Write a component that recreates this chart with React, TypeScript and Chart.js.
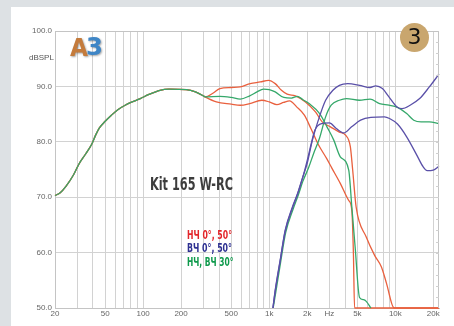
import React, { useEffect, useRef } from 'react';
import { Chart, registerables } from 'chart.js';

Chart.register(...registerables);

// ---- axis ticks ----
const FREQ_GRID = [20, 30, 40, 50, 60, 70, 80, 90, 100, 200, 300, 400, 500, 600, 700, 800, 900, 1000, 2000, 3000, 4000, 5000, 6000, 7000, 8000, 9000, 10000, 20000];
const FREQ_LABEL_VALUES = [20, 50, 100, 200, 500, 1000, 2000, 3000, 5000, 10000, 20000];
const FREQ_LABEL_TEXT = ['20', '50', '100', '200', '500', '1k', '2k', 'Hz', '5k', '10k', '20k'];
const DB_TICKS = [50, 60, 70, 80, 90, 100];

// ---- woofer (НЧ) common low part ----
const lowFreq = [20, 22, 24.5, 28, 31, 35, 39, 42, 45, 50, 56, 63, 72, 80, 95, 110, 136, 160, 220, 260, 300];
const lowDb = [70.3, 70.8, 72.0, 74.0, 76.0, 77.8, 79.5, 81.2, 82.5, 83.7, 84.8, 85.8, 86.6, 87.1, 87.8, 88.5, 89.3, 89.5, 89.4, 89.0, 88.3];

// НЧ 0°
const wooferRed0Freq = [310, 360, 406, 500, 589, 706, 850, 988, 1115, 1250, 1387, 1613, 1937, 2326, 2630, 3060, 3570, 4030, 4400, 4590, 4890, 5880, 6850, 7760, 8500, 9780, 22200];
const wooferRed0Db = [88.1, 88.8, 89.6, 89.8, 89.9, 90.5, 90.8, 91.1, 90.5, 89.3, 88.6, 88.3, 87.2, 85.4, 83.6, 82.7, 81.8, 81.2, 79.1, 74.9, 68.2, 62.8, 59.5, 57.4, 54.5, 50, 50];

// НЧ 50°
const wooferRed50Freq = [310, 381, 500, 589, 700, 873, 1000, 1150, 1300, 1450, 1650, 1900, 2150, 2450, 2850, 3130, 3660, 4270, 4520, 4650, 4750, 22200];
const wooferRed50Db = [88.1, 87.2, 86.8, 86.6, 86.9, 87.5, 87.2, 86.7, 87.1, 87.4, 86.3, 84.8, 82.3, 79.5, 77.0, 75.3, 72.5, 69.4, 67.6, 60, 50, 50];

// НЧ 30°
const wooferGreenFreq = [310, 406, 500, 589, 700, 800, 900, 1000, 1115, 1306, 1500, 1670, 1850, 2070, 2510, 2870, 3250, 3660, 4270, 4520, 4800, 5200, 5600, 5880, 6400];
const wooferGreenDb = [88.1, 88.2, 88.0, 87.7, 88.3, 89.0, 89.5, 89.4, 89.0, 88.0, 87.9, 88.2, 87.6, 86.9, 85.1, 82.7, 80.3, 77.3, 74.9, 68.2, 61.0, 51.9, 51.5, 51.2, 50.0];

// ВЧ 0°
const tweeterBlue0Freq = [1070, 1120, 1220, 1340, 1530, 1680, 1830, 2000, 2200, 2500, 2800, 3200, 3600, 4200, 5200, 6300, 7000, 7900, 8900, 10300, 11300, 13100, 15600, 18600, 22200];
const tweeterBlue0Db = [50, 53.5, 58.6, 64.1, 68.3, 70.7, 73.4, 76.1, 80.3, 84.5, 87.5, 89.3, 90.2, 90.5, 90.2, 89.8, 90.1, 89.6, 88.1, 86.3, 86.0, 86.6, 87.8, 89.9, 92.2];

// ВЧ 50°
const tweeterBlue50Freq = [1070, 1120, 1220, 1340, 1530, 1680, 1830, 2000, 2150, 2300, 2600, 3000, 3400, 3900, 4500, 5300, 6400, 8200, 9000, 10400, 12300, 14800, 16600, 17900, 20000, 22200];
const tweeterBlue50Db = [50, 53.3, 58.4, 63.9, 68.1, 70.6, 73.3, 76.6, 79.6, 82.1, 83.3, 83.4, 82.4, 81.6, 82.7, 83.9, 84.4, 84.5, 84.2, 83.2, 80.9, 77.6, 75.5, 74.8, 74.9, 75.6];

// ВЧ 30°
const tweeterGreenFreq = [1075, 1130, 1230, 1350, 1550, 1700, 1850, 2050, 2250, 2500, 2800, 3100, 3600, 4100, 5200, 6300, 7500, 8900, 10400, 12300, 14000, 16000, 18600, 22200];
const tweeterGreenDb = [50, 53, 58.2, 63.6, 67.9, 70.4, 72.9, 75.3, 77.9, 80.6, 84.5, 86.6, 87.5, 87.8, 87.5, 87.7, 86.9, 86.6, 86.2, 85.1, 83.9, 83.6, 83.6, 83.3];

const TITLE = 'Kit 165 W-RC';
const LEGEND_TEXT = ['НЧ 0°, 50°', 'ВЧ 0°, 50°', 'НЧ, ВЧ 30°'];

const RED = '#e9603e';
const GREEN = '#35a86a';
const BLUE = '#5a50a8';

const pts = (fs: number[], ds: number[]) => fs.map((f, i) => ({ x: f, y: ds[i] }));

function fitText(ctx: CanvasRenderingContext2D, text: string, x: number, y: number, width: number, font: string, color: string) {
  ctx.save();
  ctx.font = font;
  const w = ctx.measureText(text).width;
  ctx.translate(x, y);
  ctx.scale(width / w, 1);
  ctx.fillStyle = color;
  ctx.textBaseline = 'middle';
  ctx.textAlign = 'left';
  ctx.fillText(text, 0, 0);
  ctx.restore();
}

const decorPlugin = {
  id: 'decor',
  afterDraw(chart: any) {
    const ctx: CanvasRenderingContext2D = chart.ctx;
    const a = chart.chartArea;
    const y = chart.scales.y;
    // frame
    ctx.save();
    ctx.strokeStyle = '#c4c4c4';
    ctx.lineWidth = 1;
    ctx.beginPath();
    ctx.moveTo(a.left, a.top + 0.5);
    ctx.lineTo(a.right - 0.5, a.top + 0.5);
    ctx.lineTo(a.right - 0.5, a.bottom);
    ctx.stroke();
    // small right-side ticks
    ctx.strokeStyle = '#d0d0d0';
    for (let v = 52; v < 100; v += 2) {
      const py = Math.round(y.getPixelForValue(v)) + 0.5;
      ctx.beginPath();
      ctx.moveTo(a.right - 3, py);
      ctx.lineTo(a.right, py);
      ctx.stroke();
    }
    ctx.restore();

    // dBSPL label
    ctx.save();
    ctx.font = '8px "Liberation Sans", Arial, sans-serif';
    ctx.fillStyle = '#555';
    ctx.textBaseline = 'middle';
    ctx.textAlign = 'left';
    ctx.fillText('dBSPL', 29, 58);
    ctx.restore();

    // A3 logo
    ctx.save();
    ctx.shadowColor = 'rgba(0,0,0,0.35)';
    ctx.shadowBlur = 2;
    ctx.shadowOffsetX = 1;
    ctx.shadowOffsetY = 1;
    fitText(ctx, 'A', 70, 49, 18, 'bold 25px "DejaVu Sans", sans-serif', '#c47b3c');
    fitText(ctx, '3', 86, 48, 17, 'bold 25px "DejaVu Sans", sans-serif', '#3f86c6');
    ctx.restore();

    // badge
    ctx.save();
    ctx.fillStyle = '#c9a66e';
    ctx.beginPath();
    ctx.arc(414.5, 37.5, 14.5, 0, Math.PI * 2);
    ctx.fill();
    ctx.fillStyle = '#111';
    ctx.font = '22px "DejaVu Sans", sans-serif';
    ctx.textAlign = 'center';
    ctx.textBaseline = 'middle';
    ctx.fillText('3', 414.5, 38.5);
    ctx.restore();

    // title
    const cond = 'bold 17px "DejaVu Sans Condensed", "Liberation Sans Narrow", sans-serif';
    fitText(ctx, TITLE, 150, 185.5, 83, cond, '#3d3d3d');
    const legendFont = 'bold 12px "DejaVu Sans Condensed", "Liberation Sans Narrow", sans-serif';
    fitText(ctx, LEGEND_TEXT[0], 187, 235.5, 45, legendFont, '#e3262b');
    fitText(ctx, LEGEND_TEXT[1], 187, 249, 45, legendFont, '#2e3192');
    fitText(ctx, LEGEND_TEXT[2], 187, 262.5, 46.5, legendFont, '#0f9a4c');
  },
};

export default function App() {
  const ref = useRef<HTMLCanvasElement>(null);
  useEffect(() => {
    const lineDs = (label: string, data: any[], color: string) => ({
      label,
      data,
      borderColor: color,
      backgroundColor: color,
      borderWidth: 1.3,
      pointRadius: 0,
      showLine: true,
      fill: false,
      cubicInterpolationMode: 'monotone' as const,
      clip: 4,
    });
    const chart = new Chart(ref.current!, {
      type: 'scatter',
      data: {
        datasets: [
          lineDs('ВЧ 50°', pts(tweeterBlue50Freq, tweeterBlue50Db), BLUE),
          lineDs('ВЧ 0°', pts(tweeterBlue0Freq, tweeterBlue0Db), BLUE),
          lineDs('ВЧ 30°', pts(tweeterGreenFreq, tweeterGreenDb), GREEN),
          lineDs('НЧ 30°', pts(lowFreq.concat(wooferGreenFreq), lowDb.concat(wooferGreenDb)), GREEN),
          lineDs('НЧ 50°', pts(lowFreq.concat(wooferRed50Freq), lowDb.concat(wooferRed50Db)), RED),
          lineDs('НЧ 0°', pts(lowFreq.concat(wooferRed0Freq), lowDb.concat(wooferRed0Db)), RED),
        ],
      },
      options: {
        responsive: false,
        animation: false,
        layout: { padding: { top: 31, right: 15, left: 0, bottom: 0 } },
        plugins: { legend: { display: false }, tooltip: { enabled: false }, title: { display: false } },
        scales: {
          x: {
            type: 'logarithmic',
            min: 20,
            max: 22200,
            afterFit: (s: any) => { s.height = 18; },
            afterBuildTicks: (s: any) => { s.ticks = FREQ_GRID.map((v) => ({ value: v })); },
            ticks: {
              autoSkip: false,
              maxRotation: 0,
              padding: 1,
              color: '#666',
              font: { family: '"Liberation Sans", Arial, sans-serif', size: 8 },
              callback: (v: any) => {
                const i = FREQ_LABEL_VALUES.indexOf(Number(v));
                return i >= 0 ? FREQ_LABEL_TEXT[i] : '';
              },
            },
            grid: { color: '#d2d2d2', lineWidth: 1, drawTicks: false },
            border: { color: '#c4c4c4' },
          },
          y: {
            type: 'linear',
            min: 50,
            max: 100,
            afterFit: (s: any) => { s.width = 55; },
            afterBuildTicks: (s: any) => { s.ticks = DB_TICKS.map((v) => ({ value: v })); },
            ticks: {
              padding: 3,
              color: '#666',
              font: { family: '"Liberation Sans", Arial, sans-serif', size: 8 },
              callback: (v: any) => Number(v).toFixed(1),
            },
            grid: { color: '#d2d2d2', lineWidth: 1, drawTicks: false },
            border: { color: '#c4c4c4' },
          },
        },
      },
      plugins: [decorPlugin],
    });
    return () => chart.destroy();
  }, []);
  return (
    <div style={{ position: 'fixed', left: 0, top: 0, width: 454, height: 326, background: '#dde1e4', overflow: 'hidden' }}>
      <div style={{ position: 'absolute', left: 11, top: 7, width: 443, height: 319, background: '#ffffff' }} />
      <canvas ref={ref} width={454} height={326} style={{ position: 'absolute', left: 0, top: 0, width: 454, height: 326 }} />
    </div>
  );
}
